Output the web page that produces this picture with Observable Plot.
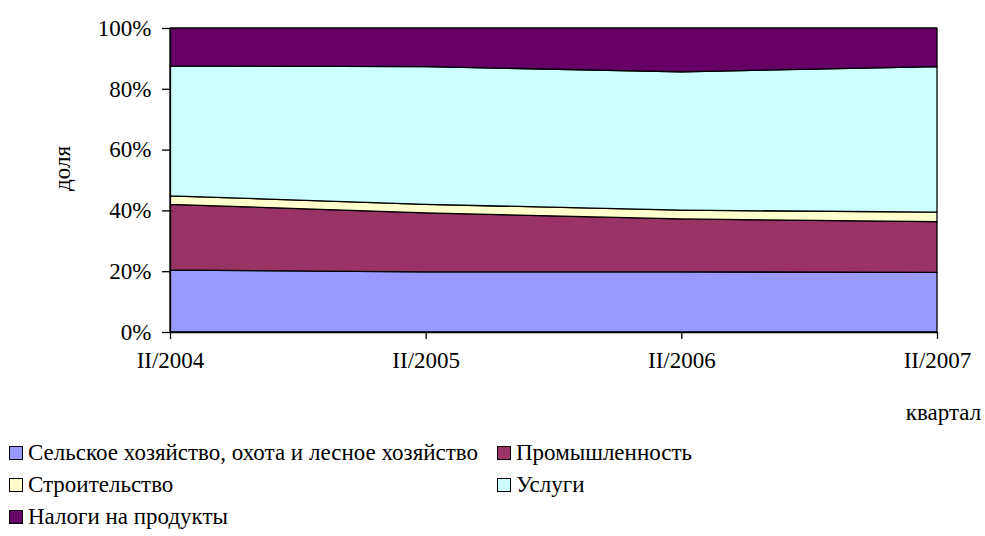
<!DOCTYPE html>
<html>
<head>
<meta charset="utf-8">
<script src="https://cdn.jsdelivr.net/npm/d3@7"></script>
<script src="https://cdn.jsdelivr.net/npm/@observablehq/plot@0.6"></script>
<style>
  html, body { margin: 0; padding: 0; background: #fff; }
  body { width: 985px; height: 536px; position: relative; overflow: hidden; font-family: "Liberation Serif", "Times New Roman", serif; }
  #chart { position: absolute; left: 0; top: 0; }
  #legend { position: absolute; left: 9px; top: 437px; display: grid; grid-template-columns: 488px auto; grid-auto-rows: 32px; font-size: 23px; color: #000; }
  .item { display: flex; align-items: center; white-space: nowrap; }
  .sw { width: 12px; height: 12px; border: 1.5px solid #000; margin-right: 5px; flex: none; }
</style>
</head>
<body>
<div id="chart"></div>
<div id="legend"></div>
<script>
const quarters = ["II/2004", "II/2005", "II/2006", "II/2007"];
const sectors = [
  "Сельское хозяйство, охота и лесное хозяйство",
  "Промышленность",
  "Строительство",
  "Услуги",
  "Налоги на продукты"
];
const agriculture  = [20.4, 19.8, 19.8, 19.6];
const industry     = [21.6, 19.4, 17.4, 16.7];
const construction = [2.8, 2.8, 2.9, 3.1];
const services     = [42.7, 45.3, 45.5, 47.9];
const taxes        = [12.5, 12.7, 14.4, 12.7];
const colors = ["#9999ff", "#993366", "#ffffcc", "#ccffff", "#660066"];
const yTicks = [0, 20, 40, 60, 80, 100];

const seriesValues = [agriculture, industry, construction, services, taxes];
const data = [];
sectors.forEach((s, si) => quarters.forEach((q, qi) => data.push({sector: s, idx: qi, value: seriesValues[si][qi]})));

const chart = Plot.plot({
  width: 985,
  height: 430,
  marginLeft: 170,
  marginRight: 48,
  marginTop: 28,
  marginBottom: 98,
  style: {fontFamily: "'Liberation Serif', 'Times New Roman', serif", fontSize: "23px", color: "#000", background: "#fff"},
  x: {domain: [0, quarters.length - 1]},
  y: {domain: [0, 100]},
  color: {domain: sectors, range: colors},
  marks: [
    Plot.areaY(data, {x: "idx", y: "value", fill: "sector", z: "sector", order: sectors, stroke: "#000", strokeWidth: 1.3}),
    Plot.ruleX([0], {stroke: "#000", strokeWidth: 1.3}),
    Plot.ruleY([0], {stroke: "#000", strokeWidth: 1.3}),
    Plot.axisY({ticks: yTicks, tickFormat: d => d + "%", tickSize: 8, tickPadding: 11, label: null, stroke: "#000", strokeWidth: 1.3}),
    Plot.axisX({ticks: d3.range(quarters.length), tickFormat: i => quarters[i], tickSize: 7, tickPadding: 12, label: null, stroke: "#000", strokeWidth: 1.3}),
    Plot.text(["доля"], {frameAnchor: "left", textAnchor: "middle", dx: -108, dy: -12, rotate: -90, fill: "#000", fontSize: 23}),
    Plot.text(["квартал"], {frameAnchor: "bottom-right", dx: 6, dy: 80, textAnchor: "middle", lineAnchor: "middle", fill: "#000", fontSize: 23})
  ]
});
document.getElementById("chart").appendChild(chart);

const legend = document.getElementById("legend");
sectors.forEach((s, i) => {
  const it = document.createElement("div");
  it.className = "item";
  const sw = document.createElement("span");
  sw.className = "sw";
  sw.style.background = colors[i];
  const t = document.createElement("span");
  t.textContent = s;
  it.appendChild(sw);
  it.appendChild(t);
  legend.appendChild(it);
});
</script>
</body>
</html>
